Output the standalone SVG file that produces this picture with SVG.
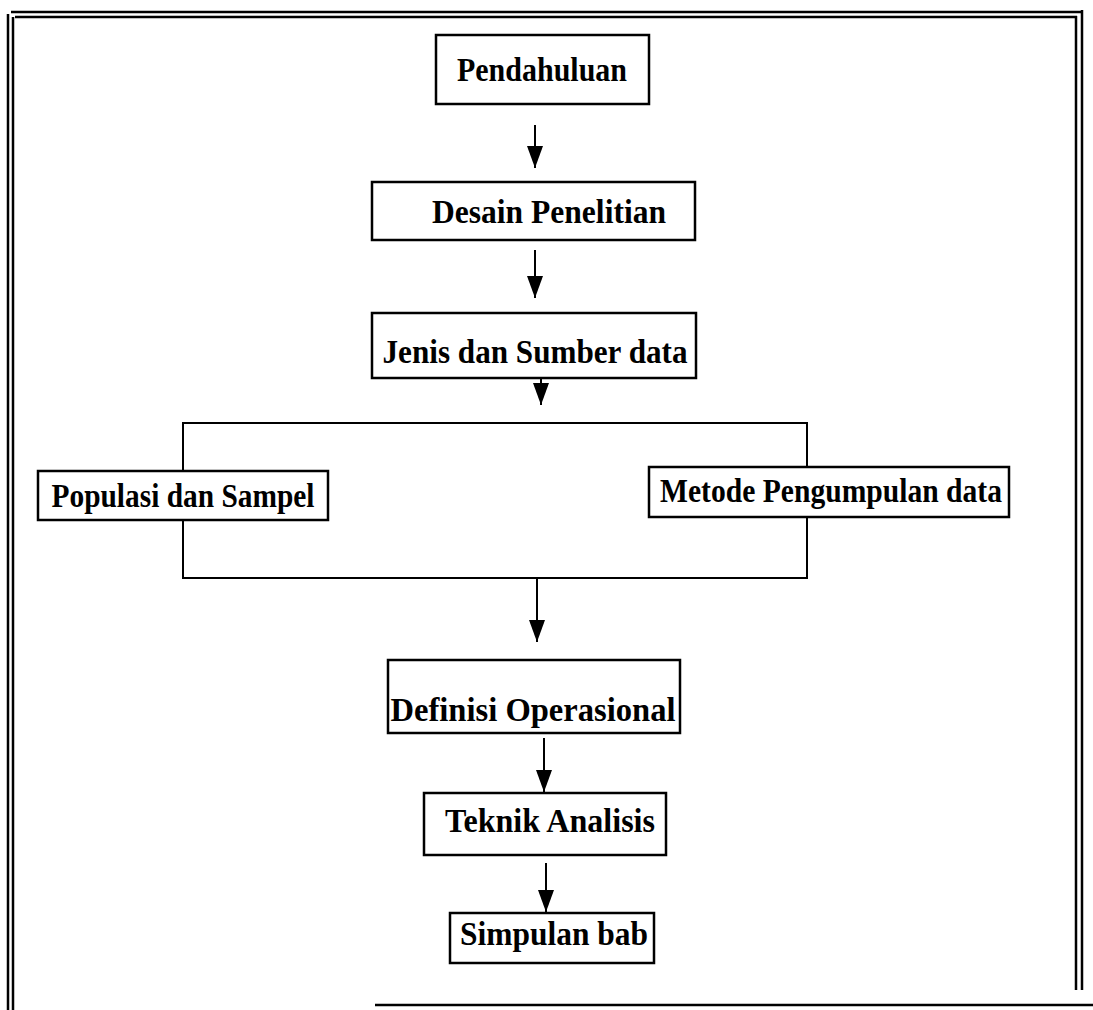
<svg xmlns="http://www.w3.org/2000/svg" width="1093" height="1010" viewBox="0 0 1093 1010">
  <defs>
    <!-- solid triangular arrowhead, tip at the line end -->
    <marker id="arrow" viewBox="0 0 22 16" refX="22" refY="8" markerWidth="22" markerHeight="16" markerUnits="userSpaceOnUse" orient="auto">
      <path d="M0,0 L22,8 L0,16 Z" fill="#000"/>
    </marker>
  </defs>
  <style>
    .frame { fill: none; stroke: #000; stroke-width: 2.5; }
    .box { fill: #fff; stroke: #000; stroke-width: 2.5; }
    .lbl { font-family: "Liberation Serif", "Times New Roman", serif; font-weight: bold; font-size: 33px; fill: #000; text-anchor: middle; }
    .link { fill: none; stroke: #000; stroke-width: 2; }
    .arr { fill: none; stroke: #000; stroke-width: 2; }
  </style>
  <rect width="1093" height="1010" fill="#fff"/>

  <!-- page frame (double rule) -->
  <g id="frame">
    <line class="frame" x1="8" y1="14" x2="8" y2="1010"/>
    <line class="frame" x1="13" y1="17" x2="13" y2="1010" stroke-width="2"/>
    <line class="frame" x1="11" y1="12" x2="1082" y2="12"/>
    <line class="frame" x1="15" y1="17" x2="1077" y2="17" stroke-width="2"/>
    <line class="frame" x1="1082" y1="10" x2="1082" y2="990"/>
    <line class="frame" x1="1076" y1="16" x2="1076" y2="990" stroke-width="2"/>
    <line class="frame" x1="375" y1="1005" x2="1093" y2="1005"/>
  </g>

  <!-- connectors -->
  <g id="connectors">
    <rect class="link" x="183" y="423" width="624" height="155"/>
    <line class="arr" x1="535" y1="125" x2="535" y2="168" marker-end="url(#arrow)"/>
    <line class="arr" x1="535" y1="250" x2="535" y2="298" marker-end="url(#arrow)"/>
    <line class="arr" x1="541" y1="370" x2="541" y2="405" marker-end="url(#arrow)"/>
    <line class="arr" x1="537" y1="578" x2="537" y2="642" marker-end="url(#arrow)"/>
    <line class="arr" x1="544" y1="738" x2="544" y2="792" marker-end="url(#arrow)"/>
    <line class="arr" x1="546" y1="863" x2="546" y2="912" marker-end="url(#arrow)"/>
  </g>

  <g id="pendahuluan">
    <rect class="box" x="436" y="35" width="213" height="69"/>
    <text class="lbl" x="542" y="81" textLength="170" lengthAdjust="spacingAndGlyphs">Pendahuluan</text>
  </g>
  <g id="desain-penelitian">
    <rect class="box" x="372" y="182" width="323" height="58"/>
    <text class="lbl" x="549" y="223" textLength="234" lengthAdjust="spacingAndGlyphs">Desain Penelitian</text>
  </g>
  <g id="jenis-sumber-data">
    <rect class="box" x="372" y="313" width="324" height="65"/>
    <text class="lbl" x="535" y="363" textLength="305" lengthAdjust="spacingAndGlyphs">Jenis dan Sumber data</text>
  </g>
  <g id="populasi-sampel">
    <rect class="box" x="38" y="471" width="290" height="49"/>
    <text class="lbl" x="183" y="507" textLength="263" lengthAdjust="spacingAndGlyphs">Populasi dan Sampel</text>
  </g>
  <g id="metode-pengumpulan">
    <rect class="box" x="649" y="467" width="360" height="50"/>
    <text class="lbl" x="831" y="502" textLength="342" lengthAdjust="spacingAndGlyphs">Metode Pengumpulan data</text>
  </g>
  <g id="definisi-operasional">
    <rect class="box" x="388" y="660" width="292" height="73"/>
    <text class="lbl" x="533" y="721" textLength="285" lengthAdjust="spacingAndGlyphs">Definisi Operasional</text>
  </g>
  <g id="teknik-analisis">
    <rect class="box" x="424" y="793" width="242" height="62"/>
    <text class="lbl" x="550" y="832" textLength="210" lengthAdjust="spacingAndGlyphs">Teknik Analisis</text>
  </g>
  <g id="simpulan-bab">
    <rect class="box" x="450" y="913" width="204" height="50"/>
    <text class="lbl" x="554" y="945" textLength="188" lengthAdjust="spacingAndGlyphs">Simpulan bab</text>
  </g>
</svg>
